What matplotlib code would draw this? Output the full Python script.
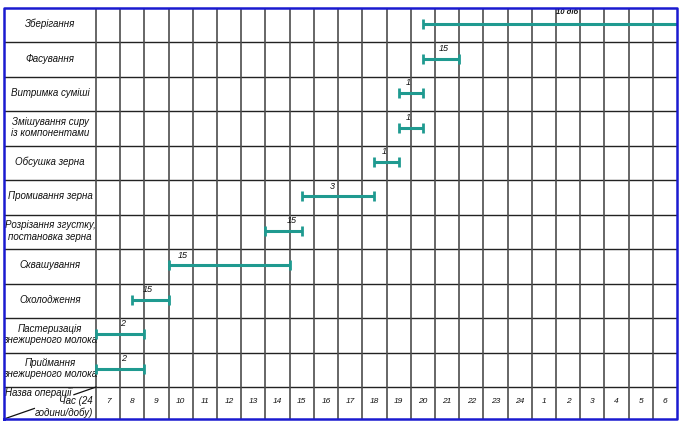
import matplotlib
matplotlib.use("Agg")
import matplotlib.pyplot as plt

# ---------------- data ----------------
tasks = [
    "Зберігання",
    "Фасування",
    "Витримка суміші",
    "Змішування сиру\nіз компонентами",
    "Обсушка зерна",
    "Промивання зерна",
    "Розрізання згустку,\nпостановка зерна",
    "Сквашування",
    "Охолодження",
    "Пастеризація\nзнежиреного молока",
    "Приймання\nзнежиреного молока",
]
starts = [20.5, 20.5, 19.5, 19.5, 18.5, 15.5, 14.0, 10.0, 8.5, 7.0, 7.0]
ends = [31.0, 22.0, 20.5, 20.5, 19.5, 18.5, 15.5, 15.0, 10.0, 9.0, 9.0]
dur_labels = ["10 діб", "15", "1", "1", "1", "3", "15", "15", "15", "2", "2"]
dur_label_t = [26.45, 21.35, 19.9, 19.9, 18.9, 16.75, 15.1, 10.6, 9.15, 8.1, 8.15]
hour_labels = ["7", "8", "9", "10", "11", "12", "13", "14", "15", "16", "17", "18",
               "19", "20", "21", "22", "23", "24", "1", "2", "3", "4", "5", "6"]
header_top = "Назва операції"
header_mid = "Час (24"
header_bot = "години/добу)"

# ---------------- style ----------------
plt.rcParams["font.family"] = ["Liberation Sans", "DejaVu Sans"]

W, H = 684, 425
fig = plt.figure(figsize=(W / 100, H / 100), dpi=100)
left_px, right_px, top_px, bot_px = 4, 677, 8, 419
ax = fig.add_axes([left_px / W, 1 - bot_px / H, (right_px - left_px) / W, (bot_px - top_px) / H])

t0 = 7.0
n_hours = len(hour_labels)
t_end = t0 + n_hours
col_px = (right_px - 96) / n_hours
label_w = (96 - left_px) / col_px
x_min = t0 - label_w
n = len(tasks)
row_px = 34.5
header_h = 32 / row_px
ax.set_xlim(x_min, t_end)
ax.set_ylim(-header_h, n)
ax.axis("off")

bar_color = "#1f9a90"
grid_color = "#222222"
vgrid_color = "#4d4d4d"
border_color = "#1a1ad0"
txt_color = "#111111"

# grid: horizontal lines
for k in range(0, n):
    ax.plot([x_min, t_end], [k, k], color=grid_color, lw=1.0, zorder=1)
# vertical lines
for k in range(n_hours):
    ax.plot([t0 + k, t0 + k], [-header_h, n], color=vgrid_color, lw=1.2, zorder=1)

# border
ax.plot([x_min, t_end, t_end, x_min, x_min], [-header_h, -header_h, n, n, -header_h],
        color=border_color, lw=1.8, zorder=5, clip_on=False)

# hour labels
for k, lab in enumerate(hour_labels):
    ax.text(t0 + k + 0.5, -header_h / 2 + 0.04, lab, ha="center", va="center",
            fontsize=6, style="italic", color=txt_color)

# header cell
ax.text(x_min + 0.06, -0.03, header_top, ha="left", va="top", fontsize=7,
        style="italic", color=txt_color)
ax.text(t0 - 0.15, -header_h * 0.45, header_mid, ha="right", va="center", fontsize=7,
        style="italic", color=txt_color)
ax.text(t0 - 0.1, -header_h * 0.80, header_bot, ha="right", va="center", fontsize=7,
        style="italic", color=txt_color)


def diag(f):
    return x_min + f * label_w, -header_h + f * header_h


xa, ya = diag(0.0)
xb, yb = diag(0.33)
ax.plot([xa, xb], [ya, yb], color=txt_color, lw=0.9)
xa, ya = diag(0.76)
xb, yb = diag(1.0)
ax.plot([xa, xb], [ya, yb], color=txt_color, lw=0.9)

# tasks
for i, (name, s, e, dl, dt) in enumerate(zip(tasks, starts, ends, dur_labels, dur_label_t)):
    yc = n - i - 0.5 + 0.03
    ax.text(x_min + label_w / 2, yc, name, ha="center", va="center", fontsize=7,
            style="italic", color=txt_color, linespacing=1.15)
    ax.plot([s, e], [yc, yc], color=bar_color, lw=2.2, zorder=3, solid_capstyle="butt")
    cap_x = [s] if e >= t_end else [s, e]
    ax.plot(cap_x, [yc] * len(cap_x), ls="none", marker="|", ms=7, mew=2.0,
            color=bar_color, zorder=3)
    if i == 0:
        ax.text(dt, n - 0.12, dl, ha="center", va="center", fontsize=5.5,
                style="italic", weight="bold", color=txt_color)
    else:
        ax.text(dt, yc + 0.3, dl, ha="center", va="center", fontsize=6.5,
                style="italic", color=txt_color)

fig.savefig("out.png", dpi=100)
